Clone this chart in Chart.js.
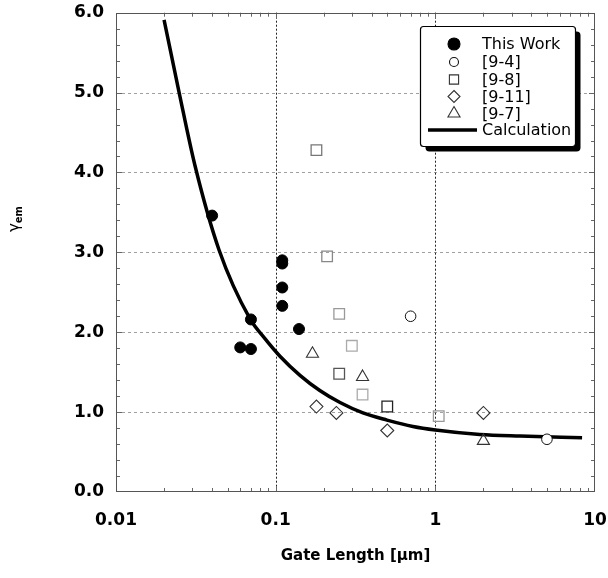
<!DOCTYPE html>
<html><head><meta charset="utf-8">
<script src="https://cdn.jsdelivr.net/npm/chart.js@4.4.0/dist/chart.umd.min.js"></script>
<style>html,body{margin:0;padding:0;background:#fff;}canvas{display:block;}</style>
</head><body>
<canvas id="c" width="608" height="578"></canvas>
<script>
// ---- data ----
const thisWorkX = [0.04, 0.11, 0.11, 0.11, 0.11, 0.14, 0.07, 0.06, 0.07];
const thisWorkY = [3.46, 2.90, 2.86, 2.56, 2.33, 2.04, 2.16, 1.81, 1.79];
const ref94X = [0.70, 5.0];
const ref94Y = [2.20, 0.66];
const ref98X = [0.18, 0.21, 0.25, 0.30, 0.25, 0.35, 0.50, 1.05];
const ref98Y = [4.28, 2.95, 2.23, 1.83, 1.48, 1.22, 1.07, 0.95];
const ref911X = [0.18, 0.24, 0.50, 2.0];
const ref911Y = [1.07, 0.99, 0.77, 0.99];
const ref97X = [0.17, 0.35, 2.0];
const ref97Y = [1.73, 1.44, 0.64];
const calcX = [0.020, 0.0248, 0.0312, 0.0442, 0.069, 0.0857, 0.1064, 0.142, 0.189, 0.253, 0.352, 0.498, 0.724, 1.0, 1.9, 3.39, 8.3];
const calcY = [5.91, 5.01, 4.09, 3.03, 2.17, 1.92, 1.70, 1.46, 1.27, 1.12, 0.99, 0.90, 0.82, 0.776, 0.72, 0.70, 0.68];
const seriesLabels = ['This Work', '[9-4]', '[9-8]', '[9-11]', '[9-7]', 'Calculation'];
const xTickValues = [0.01, 0.1, 1, 10];
const xTickLabels = ['0.01', '0.1', '1', '10'];
const yTickLabels = ['0.0', '1.0', '2.0', '3.0', '4.0', '5.0', '6.0'];
const xGridValues = [0.1, 1];
const yGridValues = [1, 2, 3, 4, 5];
const xTitle = 'Gate Length [μm]';
const yTitleMain = 'γ';
const yTitleSub = 'em';

// styles
const ref98Colors = ['#777', '#888', '#999', '#aaa', '#555', '#aaa', '#222', '#999'];
const FONT = "'DejaVu Sans', Verdana, sans-serif";

function pts(xs, ys) { return xs.map((x, i) => ({ x: x, y: ys[i] })); }

function shape(ctx, style, x, y, r) {
  ctx.beginPath();
  if (style === 'circle') {
    ctx.arc(x, y, r, 0, Math.PI * 2);
  } else if (style === 'rect') {
    const s = r * Math.SQRT1_2;
    ctx.rect(x - s, y - s, 2 * s, 2 * s);
  } else if (style === 'rectRot') {
    ctx.moveTo(x, y - r); ctx.lineTo(x + r, y); ctx.lineTo(x, y + r); ctx.lineTo(x - r, y); ctx.closePath();
  } else if (style === 'triangle') {
    const a = Math.PI * 2 / 3;
    ctx.moveTo(x, y - r);
    ctx.lineTo(x + Math.sin(a) * r, y - Math.cos(a) * r);
    ctx.lineTo(x - Math.sin(a) * r, y - Math.cos(a) * r);
    ctx.closePath();
  }
}

const framePlugin = {
  id: 'framePlugin',
  beforeDatasetsDraw(chart) {
    const { ctx, chartArea: a, scales: { x, y } } = chart;
    ctx.save();
    ctx.lineWidth = 1;
    ctx.strokeStyle = '#a0a0a0';
    ctx.setLineDash([3, 3]);
    yGridValues.forEach(v => {
      const py = Math.round(y.getPixelForValue(v)) + 0.5;
      ctx.beginPath(); ctx.moveTo(a.left, py); ctx.lineTo(a.right, py); ctx.stroke();
    });
    ctx.strokeStyle = '#222';
    ctx.setLineDash([2, 2]);
    xGridValues.forEach(v => {
      const px = Math.round(x.getPixelForValue(v)) + 0.5;
      ctx.beginPath(); ctx.moveTo(px, a.top); ctx.lineTo(px, a.bottom); ctx.stroke();
    });
    ctx.setLineDash([]);
    ctx.strokeStyle = '#666';
    for (let k = 1; k < 30; k++) {
      const v = k / 5;
      const major = k % 5 === 0;
      const len = major ? 6 : 4;
      const py = Math.round(y.getPixelForValue(v)) + 0.5;
      ctx.beginPath();
      ctx.moveTo(a.left, py); ctx.lineTo(a.left + len, py);
      ctx.moveTo(a.right, py); ctx.lineTo(a.right - len, py);
      ctx.stroke();
    }
    for (let d = -2; d <= 0; d++) {
      for (let m = 1; m <= 9; m++) {
        if (d === -2 && m === 1) continue;
        const v = m * Math.pow(10, d);
        const len = m === 1 ? 6 : 4;
        const px = Math.round(x.getPixelForValue(v)) + 0.5;
        ctx.beginPath();
        ctx.moveTo(px, a.bottom); ctx.lineTo(px, a.bottom - len);
        ctx.moveTo(px, a.top); ctx.lineTo(px, a.top + len);
        ctx.stroke();
      }
    }
    ctx.strokeStyle = '#555';
    ctx.strokeRect(a.left + 0.5, Math.round(a.top) + 0.5, a.right - a.left - 1, Math.round(a.bottom - a.top) - 1);
    ctx.restore();
  }
};

const yTitlePlugin = {
  id: 'yTitlePlugin',
  afterDraw(chart) {
    const ctx = chart.ctx;
    ctx.save();
    ctx.translate(15, 219);
    ctx.rotate(-Math.PI / 2);
    ctx.fillStyle = '#000';
    ctx.textBaseline = 'middle';
    ctx.textAlign = 'left';
    const f1 = "15px " + FONT, f2 = "bold 10px " + FONT;
    ctx.font = f1; const w1 = ctx.measureText(yTitleMain).width;
    ctx.font = f2; const w2 = ctx.measureText(yTitleSub).width;
    const x0 = -(w1 + w2) / 2;
    ctx.font = f1; ctx.fillText(yTitleMain, x0, 0);
    ctx.font = f2; ctx.fillText(yTitleSub, x0 + w1, 4);
    ctx.restore();
  }
};

const legendPlugin = {
  id: 'legendPlugin',
  afterDraw(chart) {
    const ctx = chart.ctx;
    const bx = 420.5, by = 26.5, bw = 155, bh = 120;
    ctx.save();
    ctx.fillStyle = '#000';
    ctx.beginPath();
    ctx.roundRect(bx + 5, by + 5, bw, bh, 4);
    ctx.fill();
    ctx.fillStyle = '#fff';
    ctx.beginPath();
    ctx.roundRect(bx, by, bw, bh, 3);
    ctx.fill();
    ctx.strokeStyle = '#000';
    ctx.lineWidth = 1.2;
    ctx.stroke();
    const rows = [44, 62, 79.5, 96.5, 113.5, 130];
    const sx = 454, tx = 482;
    ctx.font = "16px " + FONT;
    ctx.textBaseline = 'middle';
    ctx.textAlign = 'left';
    chart.data.datasets.forEach((ds, i) => {
      const yy = rows[i];
      if (ds.showLine) {
        ctx.strokeStyle = '#000';
        ctx.lineWidth = 3.5;
        ctx.beginPath(); ctx.moveTo(428, yy); ctx.lineTo(477, yy); ctx.stroke();
      } else {
        ctx.lineWidth = 1.1;
        ctx.strokeStyle = ds.legendColor;
        ctx.fillStyle = ds.legendFill;
        shape(ctx, ds.pointStyle, sx, yy, ds.legendRadius);
        ctx.fill(); ctx.stroke();
      }
      ctx.fillStyle = '#000';
      ctx.fillText(ds.label, tx, yy + 1);
    });
    ctx.restore();
  }
};

new Chart(document.getElementById('c'), {
  type: 'scatter',
  data: {
    datasets: [
      { label: seriesLabels[0], data: pts(thisWorkX, thisWorkY), pointStyle: 'circle', pointRadius: 5.5,
        backgroundColor: '#000', borderColor: '#000', borderWidth: 1, legendColor: '#000', legendFill: '#000', legendRadius: 6 },
      { label: seriesLabels[1], data: pts(ref94X, ref94Y), pointStyle: 'circle', pointRadius: 5.3,
        backgroundColor: '#fff', borderColor: '#111', borderWidth: 1, legendColor: '#111', legendFill: '#fff', legendRadius: 4.5 },
      { label: seriesLabels[2], data: pts(ref98X, ref98Y), pointStyle: 'rect', pointRadius: 7.5,
        backgroundColor: 'rgba(255,255,255,0)', borderColor: ref98Colors, borderWidth: 1.3, legendColor: '#333', legendFill: '#fff', legendRadius: 6.5 },
      { label: seriesLabels[3], data: pts(ref911X, ref911Y), pointStyle: 'rectRot', pointRadius: 6.5,
        backgroundColor: 'rgba(255,255,255,0)', borderColor: '#333', borderWidth: 1.1, legendColor: '#333', legendFill: '#fff', legendRadius: 6 },
      { label: seriesLabels[4], data: pts(ref97X, ref97Y), pointStyle: 'triangle', pointRadius: 7,
        backgroundColor: 'rgba(255,255,255,0)', borderColor: '#333', borderWidth: 1.1, legendColor: '#333', legendFill: '#fff', legendRadius: 7 },
      { label: seriesLabels[5], data: pts(calcX, calcY), showLine: true, pointRadius: 0, borderColor: '#000',
        backgroundColor: '#000', borderWidth: 3.5, cubicInterpolationMode: 'monotone', fill: false }
    ]
  },
  options: {
    responsive: false, animation: false, devicePixelRatio: 1,
    layout: { padding: 0 },
    plugins: { legend: { display: false }, tooltip: { enabled: false } },
    scales: {
      x: {
        type: 'logarithmic', min: 0.01, max: 10,
        afterFit(s) { s.height = 86; s.paddingLeft = 0; s.paddingRight = 13; },
        afterBuildTicks(s) { s.ticks = xTickValues.map(v => ({ value: v })); },
        grid: { display: false, drawTicks: false }, border: { display: false },
        ticks: { autoSkip: false, maxRotation: 0, padding: 18, color: '#000',
          font: { family: FONT, size: 17, weight: 'bold' },
          callback: (v, i) => xTickLabels[i] },
        title: { display: true, text: xTitle, color: '#000',
          font: { family: FONT, size: 15, weight: 'bold' }, padding: { top: 0, bottom: 13 } }
      },
      y: {
        type: 'linear', min: 0, max: 6,
        afterFit(s) { s.width = 116; s.paddingTop = 12.7; s.paddingBottom = 0; },
        grid: { display: false, drawTicks: false }, border: { display: false },
        ticks: { stepSize: 1, padding: 12, color: '#000',
          font: { family: FONT, size: 17, weight: 'bold' },
          callback: (v, i) => yTickLabels[i] }
      }
    }
  },
  plugins: [framePlugin, yTitlePlugin, legendPlugin]
});
</script>
</body></html>
